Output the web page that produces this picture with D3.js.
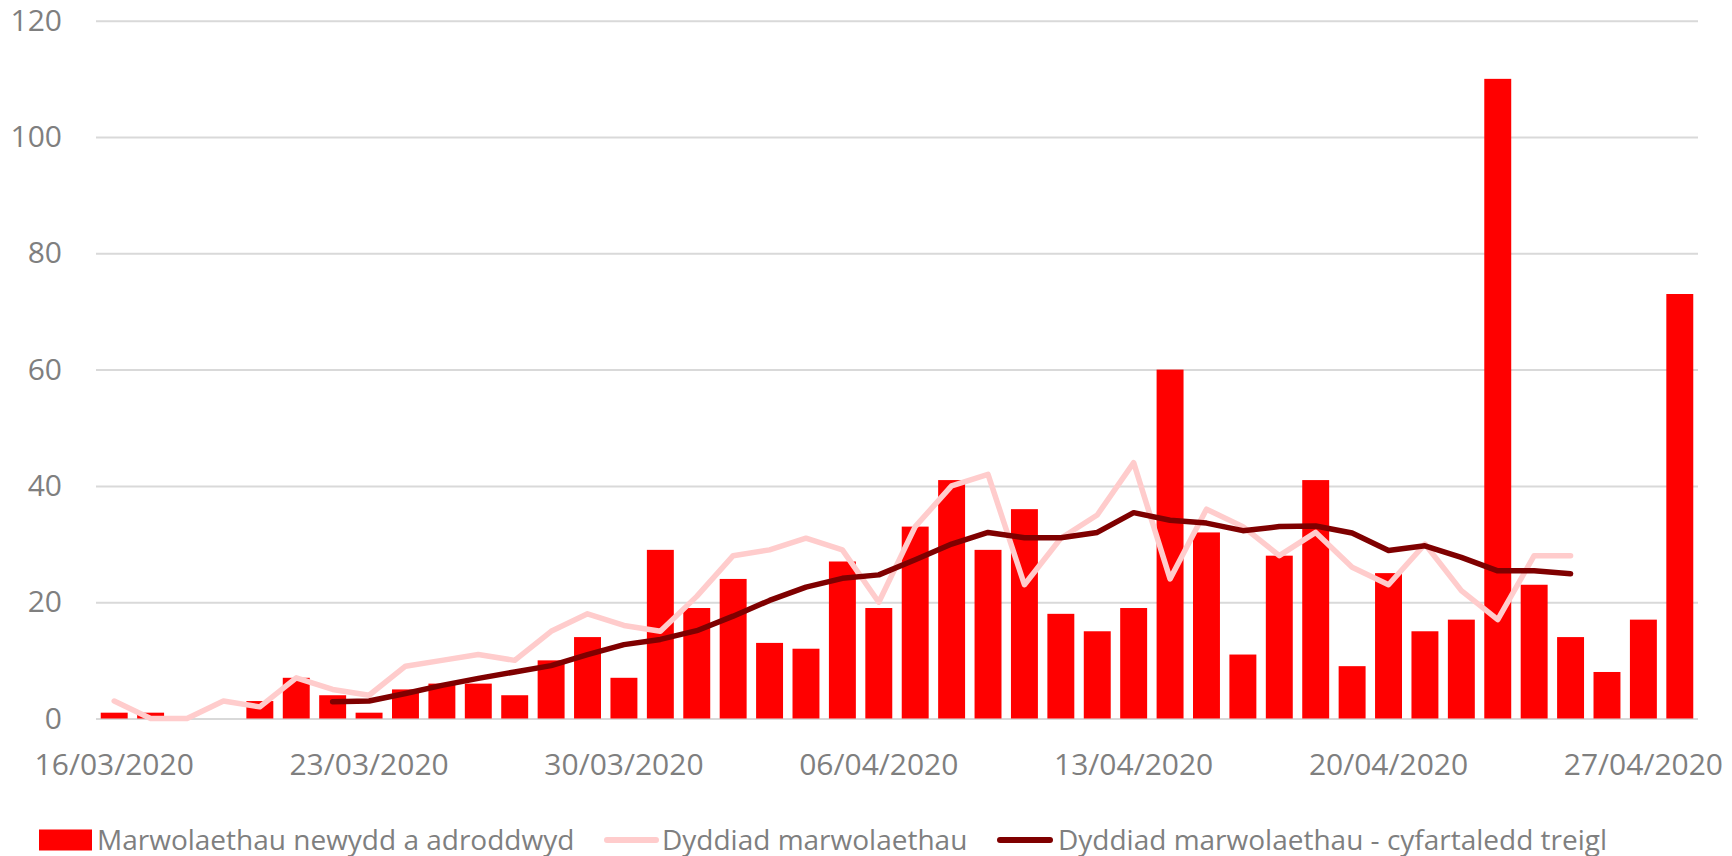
<!DOCTYPE html>
<html>
<head>
<meta charset="utf-8">
<script src="https://cdn.jsdelivr.net/npm/d3@7"></script>
<style>
  html, body { margin: 0; padding: 0; background: #fff; }
  svg text { font-family: "Open Sans", "Noto Sans", sans-serif; fill: #7f7f7f; }
</style>
</head>
<body>
<div id="chart"></div>
<script>
// Daily dates (category axis)
const dates = [
  "16/03/2020","17/03/2020","18/03/2020","19/03/2020","20/03/2020","21/03/2020","22/03/2020",
  "23/03/2020","24/03/2020","25/03/2020","26/03/2020","27/03/2020","28/03/2020","29/03/2020",
  "30/03/2020","31/03/2020","01/04/2020","02/04/2020","03/04/2020","04/04/2020","05/04/2020",
  "06/04/2020","07/04/2020","08/04/2020","09/04/2020","10/04/2020","11/04/2020","12/04/2020",
  "13/04/2020","14/04/2020","15/04/2020","16/04/2020","17/04/2020","18/04/2020","19/04/2020",
  "20/04/2020","21/04/2020","22/04/2020","23/04/2020","24/04/2020","25/04/2020","26/04/2020",
  "27/04/2020","28/04/2020"
];

// New reported deaths (bars)
const reported = [
  1, 1, 0, 0, 3, 7, 4, 1, 5, 6, 6, 4, 10, 14, 7, 29, 19, 24, 13, 12, 27, 19,
  33, 41, 29, 36, 18, 15, 19, 60, 32, 11, 28, 41, 9, 25, 15, 17, 110, 23, 14, 8, 17, 73
];

// Deaths by date of death (light line)
const byDate = [
  3, 0, 0, 3, 2, 7, 5, 4, 9, 10, 11, 10, 15, 18, 16, 15, 21, 28, 29, 31, 29, 20,
  33, 40, 42, 23, 31, 35, 44, 24, 36, 33, 28, 32, 26, 23, 30, 22, 17, 28, 28,
  null, null, null
];

// Rolling average (dark line)
const rolling = [
  null, null, null, null, null, null,
  2.9, 3.0, 4.3, 5.7, 6.9, 8.0, 9.1, 11.0, 12.7, 13.6, 15.1, 17.6, 20.3, 22.6,
  24.1, 24.7, 27.3, 30.0, 32.0, 31.1, 31.1, 32.0, 35.4, 34.1, 33.6, 32.3, 33.0,
  33.1, 31.9, 28.9, 29.7, 27.7, 25.4, 25.4, 24.9,
  null, null, null
];

const yTicks = [0, 20, 40, 60, 80, 100, 120];
const xTickDates = dates.filter((d, i) => i % 7 === 0);

const seriesNames = [
  "Marwolaethau newydd a adroddwyd",
  "Dyddiad marwolaethau",
  "Dyddiad marwolaethau - cyfartaledd treigl"
];

const W = 1732, H = 856;
const MARGIN = { top: 20.7, right: 34, bottom: 137.5, left: 96 };
const FONT = 30;
const LEGEND_FONT = 28;

const BAR_COLOR = "#ff0000";
const LIGHT_COLOR = "#ffcccc";
const DARK_COLOR = "#7f0000";

const svg = d3.select("#chart").append("svg")
  .attr("width", W)
  .attr("height", H);

const innerW = W - MARGIN.left - MARGIN.right;
const innerH = H - MARGIN.top - MARGIN.bottom;

const g = svg.append("g")
  .attr("transform", `translate(${MARGIN.left},${MARGIN.top})`);

const x = d3.scaleBand()
  .domain(dates)
  .range([0, innerW])
  .paddingInner(0.26)
  .paddingOuter(0.13);

const y = d3.scaleLinear()
  .domain([0, 120])
  .range([innerH, 0]);

// Y axis + gridlines
const yAxis = g.append("g")
  .call(d3.axisLeft(y).tickValues(yTicks).tickSize(-innerW).tickPadding(34));
yAxis.select(".domain").remove();
yAxis.selectAll("line").attr("stroke", "#d9d9d9").attr("stroke-width", 2);
yAxis.selectAll("text").style("font-size", FONT + "px");

// X axis labels, one per week
const xAxis = g.append("g")
  .attr("transform", `translate(0,${innerH})`)
  .call(d3.axisBottom(x).tickValues(xTickDates).tickSize(0).tickPadding(35));
xAxis.select(".domain").remove();
xAxis.selectAll("text").style("font-size", FONT + "px");

// Bars
g.selectAll("rect.bar")
  .data(reported.map((v, i) => ({ date: dates[i], v })))
  .join("rect")
  .attr("class", "bar")
  .attr("x", d => x(d.date))
  .attr("y", d => y(d.v))
  .attr("width", x.bandwidth())
  .attr("height", d => innerH - y(d.v))
  .attr("fill", BAR_COLOR);

const cx = i => x(dates[i]) + x.bandwidth() / 2;

const line = d3.line()
  .defined(d => d != null)
  .x((d, i) => cx(i))
  .y(d => y(d));

g.append("path")
  .datum(byDate)
  .attr("fill", "none")
  .attr("stroke", LIGHT_COLOR)
  .attr("stroke-width", 5.5)
  .attr("stroke-linejoin", "round")
  .attr("stroke-linecap", "round")
  .attr("d", line);

g.append("path")
  .datum(rolling)
  .attr("fill", "none")
  .attr("stroke", DARK_COLOR)
  .attr("stroke-width", 5.5)
  .attr("stroke-linejoin", "round")
  .attr("stroke-linecap", "round")
  .attr("d", line);

// Legend
const legend = svg.append("g");
const legendY = 840;

legend.append("rect")
  .attr("x", 39).attr("y", legendY - 10.5)
  .attr("width", 53).attr("height", 21)
  .attr("fill", BAR_COLOR);
legend.append("text")
  .attr("x", 97).attr("y", legendY + 10)
  .style("font-size", LEGEND_FONT + "px")
  .text(seriesNames[0]);

legend.append("line")
  .attr("x1", 607).attr("x2", 656)
  .attr("y1", legendY).attr("y2", legendY)
  .attr("stroke", LIGHT_COLOR).attr("stroke-width", 6)
  .attr("stroke-linecap", "round");
legend.append("text")
  .attr("x", 662).attr("y", legendY + 10)
  .style("font-size", LEGEND_FONT + "px")
  .text(seriesNames[1]);

legend.append("line")
  .attr("x1", 1000).attr("x2", 1050)
  .attr("y1", legendY).attr("y2", legendY)
  .attr("stroke", DARK_COLOR).attr("stroke-width", 6)
  .attr("stroke-linecap", "round");
legend.append("text")
  .attr("x", 1058).attr("y", legendY + 10)
  .style("font-size", LEGEND_FONT + "px")
  .text(seriesNames[2]);
</script>
</body>
</html>
